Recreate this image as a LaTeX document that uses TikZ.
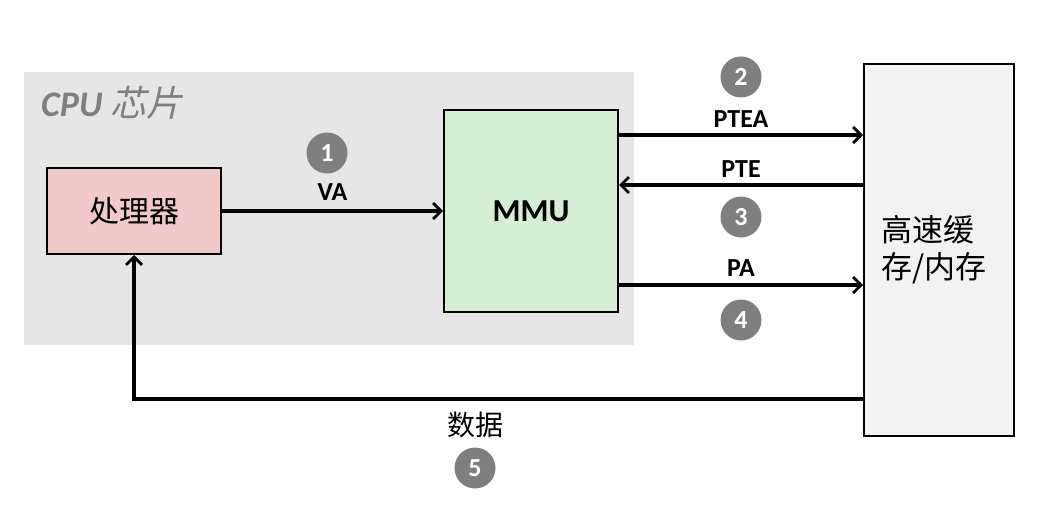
\documentclass[tikz,border=0pt]{standalone}
\usepackage{fontspec}
\setmainfont{Carlito}
\newfontfamily\cjk{Noto Sans CJK SC}
\newfontfamily\cjkit[FakeSlant=0.22]{Noto Sans CJK SC}
\usetikzlibrary{arrows.meta}
\definecolor{chipgray}{HTML}{E6E6E6}
\definecolor{cpupink}{HTML}{F2C9C9}
\definecolor{mmugreen}{HTML}{D5EFD3}
\definecolor{memgray}{HTML}{F2F2F2}
\definecolor{badge}{HTML}{7F7F7F}
\tikzset{
  box/.style={draw=black, line width=2pt, inner sep=0pt},
  arr/.style={line width=3.2pt, -{Straight Barb[length=8pt,width=16pt,line width=2.8pt]}},
  lbl/.style={font=\fontsize{26}{26}\selectfont\bfseries, inner sep=0pt},
  num/.style={circle, fill=badge, minimum size=41pt, inner sep=0pt, text=white, font=\fontsize{26}{26}\selectfont\bfseries},
}
\begin{document}
\begin{tikzpicture}[x=1pt,y=-1pt]
\useasboundingbox (0,0) rectangle (1040,505);
\fill[white] (0,0) rectangle (1040,505);
% chip background
\node[fill=chipgray, minimum width=610pt, minimum height=273pt, inner sep=0pt, anchor=north west] (chip) at (24,72) {};
\node[anchor=west, text=badge, inner sep=0pt] (chiplbl) at (41,103) {\fontsize{36}{36}\selectfont\bfseries\itshape CPU {\cjkit\mdseries 芯片}};
% boxes
\node[box, fill=cpupink, minimum width=174pt, minimum height=86pt] (cpu) at (134,211) {\cjk\fontsize{30}{30}\selectfont 处理器};
\node[box, fill=mmugreen, minimum width=174pt, minimum height=202pt] (mmu) at (531,211) {\fontsize{32}{32}\selectfont\bfseries MMU};
\node[box, fill=memgray, minimum width=150pt, minimum height=372pt] (mem) at (939,250) {};
\node[anchor=north west, inner sep=0pt, align=left, font=\cjk\fontsize{31}{37}\selectfont] (memtxt) at (881,215) {高速缓\\存/内存};
% arrows
\draw[arr] (cpu.east) -- (mmu.west) node[midway, lbl, above=9pt] (va) {VA};
\node[num] (n1) at (327,153) {1};
\draw[arr] (mmu.east |- 0,135) -- (mem.west |- 0,135) node[midway, lbl, above=6pt] (ptea) {PTEA};
\node[num] (n2) at (741,77) {2};
\draw[arr] (mem.west |- 0,185) -- (mmu.east |- 0,185) node[midway, lbl, above=6pt] (pte) {PTE};
\node[num] (n3) at (741,217) {3};
\draw[arr] (mmu.east |- 0,285) -- (mem.west |- 0,285) node[midway, lbl, above=7pt] (pa) {PA};
\node[num] (n4) at (741,320) {4};
\coordinate (corner) at (cpu.south |- 0,399);
\draw[arr] (mem.west |- 0,399) -- (corner) -- (cpu.south);
\node[inner sep=0pt, font=\cjk\fontsize{28}{28}\selectfont] (data) at (475,425) {数据};
\node[num] (n5) at (475,468) {5};
\end{tikzpicture}
\end{document}
